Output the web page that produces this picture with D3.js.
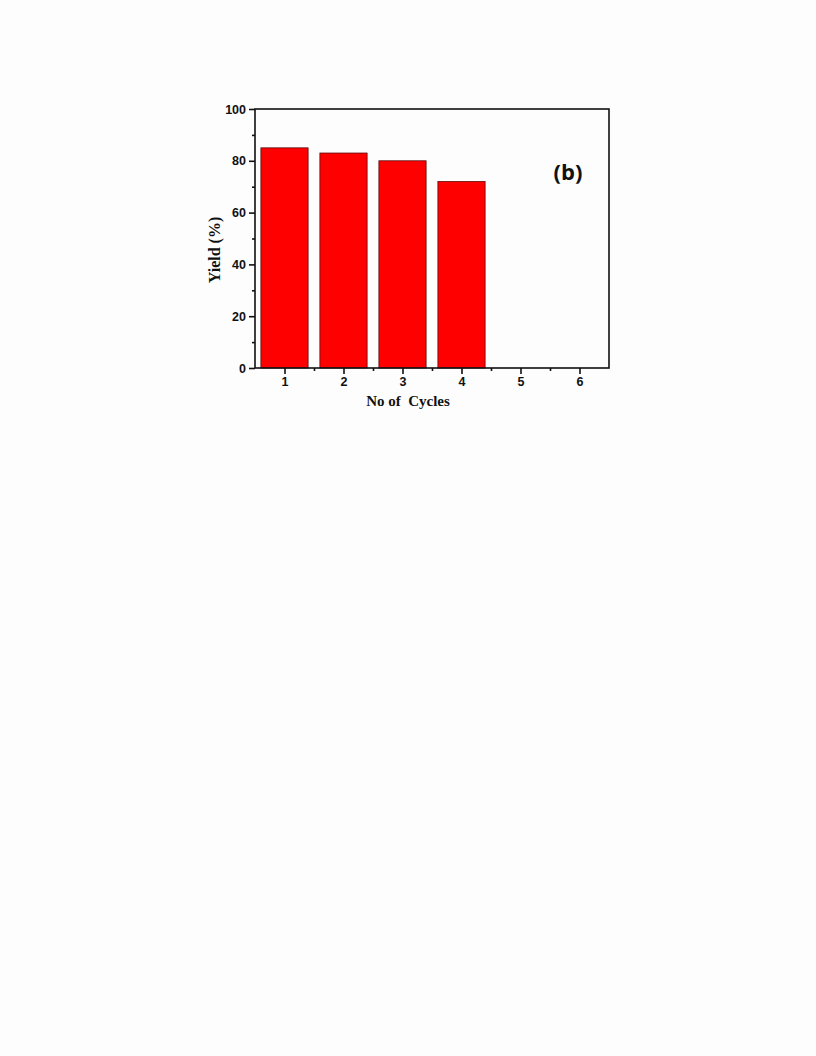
<!DOCTYPE html>
<html><head><meta charset="utf-8">
<script src="https://cdn.jsdelivr.net/npm/d3@7"></script>
<style>body{margin:0;background:#fdfdfd;}</style>
</head><body>
<svg id="c" width="816" height="1056"></svg>
<script>
const cycles = [1, 2, 3, 4];
const yields = [85, 83, 80, 72];
const xTicks = [1, 2, 3, 4, 5, 6];
const yTicks = [0, 20, 40, 60, 80, 100];

const svg = d3.select("#c");
const L = 255, R = 609, T = 109, B = 368;
const x = d3.scaleLinear().domain([0.5, 6.5]).range([L, R]);
const y = d3.scaleLinear().domain([0, 100]).range([B, T]);
const bw = 0.8;

svg.append("g").selectAll("rect").data(cycles).join("rect")
  .attr("x", (d) => x(d - bw/2))
  .attr("width", (d) => x(d + bw/2) - x(d - bw/2))
  .attr("y", (d, i) => y(yields[i]))
  .attr("height", (d, i) => y(0) - y(yields[i]))
  .attr("fill", "#ff0000").attr("stroke", "#5a0a0a").attr("stroke-width", 0.8);

// frame
svg.append("rect").attr("x", L).attr("y", T).attr("width", R - L).attr("height", B - T)
  .attr("fill", "none").attr("stroke", "#111").attr("stroke-width", 1.6);

const yAxis = svg.append("g").attr("transform", `translate(${L},0)`)
  .call(d3.axisLeft(y).tickValues(yTicks).tickSize(6).tickPadding(3).tickFormat(d3.format("d")));
const yMinor = svg.append("g").attr("transform", `translate(${L},0)`)
  .call(d3.axisLeft(y).tickValues(d3.range(10, 100, 20)).tickSize(3).tickFormat(""));
const xAxis = svg.append("g").attr("transform", `translate(0,${B})`)
  .call(d3.axisBottom(x).tickValues(xTicks).tickSize(6).tickPadding(3).tickFormat(d3.format("d")));
const xMinor = svg.append("g").attr("transform", `translate(0,${B})`)
  .call(d3.axisBottom(x).tickValues(d3.range(1.5, 6.5, 1)).tickSize(3).tickFormat(""));

[yAxis, yMinor, xAxis, xMinor].forEach(g => {
  g.select(".domain").remove();
  g.selectAll("line").attr("stroke", "#111").attr("stroke-width", 1.6);
  g.selectAll("text").attr("font-family", "Liberation Sans, Arial, sans-serif")
    .attr("font-weight", "bold").attr("font-size", 12.5).attr("fill", "#111");
});

svg.append("text").attr("transform", "translate(220,250) rotate(-90)")
  .attr("text-anchor", "middle").attr("font-family", "Liberation Serif, Times New Roman, serif")
  .attr("font-weight", "bold").attr("font-size", 16).attr("fill", "#111").text("Yield (%)");

svg.append("text").attr("x", 408).attr("y", 406)
  .attr("text-anchor", "middle").attr("font-family", "Liberation Serif, Times New Roman, serif")
  .attr("font-weight", "bold").attr("font-size", 15).attr("fill", "#111")
  .attr("xml:space", "preserve").style("white-space", "pre").text("No of  Cycles");

svg.append("text").attr("x", 568).attr("y", 180)
  .attr("text-anchor", "middle").attr("font-family", "Open Sans, DejaVu Sans, sans-serif")
  .attr("font-weight", "bold").attr("font-size", 22).attr("fill", "#111").text("(b)");
</script>
</body></html>
